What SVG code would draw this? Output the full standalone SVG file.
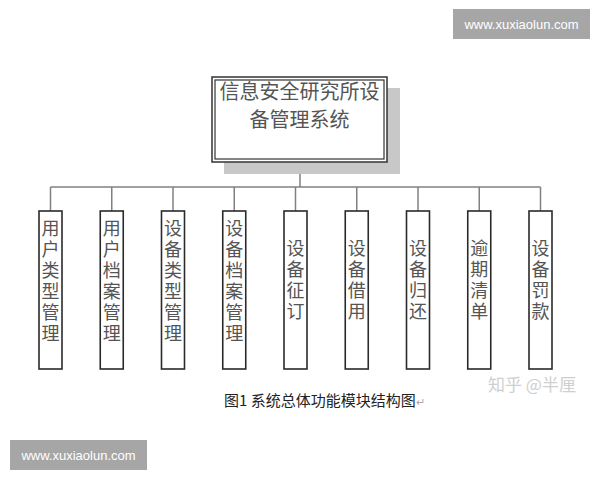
<svg xmlns="http://www.w3.org/2000/svg" width="600" height="480" viewBox="0 0 600 480">
<style>
.bg{fill:#ffffff}
.conn{stroke:#808080;stroke-width:1.5;fill:none}
.box{fill:#ffffff;stroke:#2a2a2a;stroke-width:1.6}
.lbl{font-family:"Noto Sans CJK SC","Noto Sans",sans-serif;font-size:18px;fill:#555555;writing-mode:vertical-rl;letter-spacing:3px}
.title{font-family:"Noto Sans CJK SC","Noto Sans",sans-serif;font-size:20px;fill:#555555;text-anchor:middle}
.wm{fill:#a6a6a6}
.wmt{font-family:"Liberation Sans",Arial,sans-serif;font-size:13px;fill:#ffffff;text-anchor:middle}
</style>
<rect class="bg" x="0" y="0" width="600" height="480"/>
<g id="connectors">
<line class="conn" x1="300" y1="162" x2="300" y2="187"/>
<line class="conn" x1="50.5" y1="187" x2="540.5" y2="187"/>
<line class="conn" x1="50.5" y1="187" x2="50.5" y2="211"/>
<line class="conn" x1="111.75" y1="187" x2="111.75" y2="211"/>
<line class="conn" x1="173" y1="187" x2="173" y2="211"/>
<line class="conn" x1="234.25" y1="187" x2="234.25" y2="211"/>
<line class="conn" x1="295.5" y1="187" x2="295.5" y2="211"/>
<line class="conn" x1="356.75" y1="187" x2="356.75" y2="211"/>
<line class="conn" x1="418" y1="187" x2="418" y2="211"/>
<line class="conn" x1="479.25" y1="187" x2="479.25" y2="211"/>
<line class="conn" x1="540.5" y1="187" x2="540.5" y2="211"/>
</g>
<g id="root">
<rect x="224" y="88" width="176" height="86" fill="#c8c8c8"/>
<rect x="212" y="77" width="175" height="85" fill="#ffffff" stroke="#333333" stroke-width="1.5"/>
<rect x="215" y="80" width="169" height="79" fill="none" stroke="#333333" stroke-width="1.2"/>
<text class="title" x="299.5" y="99">信息安全研究所设</text>
<text class="title" x="299.5" y="127">备管理系统</text>
</g>
<g id="n1"><rect class="box" x="39" y="211" width="23" height="158"/>
<text class="lbl" x="50.5" y="219">用户类型管理</text></g>
<g id="n2"><rect class="box" x="100.25" y="211" width="23" height="158"/>
<text class="lbl" x="111.75" y="219">用户档案管理</text></g>
<g id="n3"><rect class="box" x="161.5" y="211" width="23" height="158"/>
<text class="lbl" x="173" y="219">设备类型管理</text></g>
<g id="n4"><rect class="box" x="222.75" y="211" width="23" height="158"/>
<text class="lbl" x="234.25" y="219">设备档案管理</text></g>
<g id="n5"><rect class="box" x="284" y="211" width="23" height="158"/>
<text class="lbl" x="295.5" y="239">设备征订</text></g>
<g id="n6"><rect class="box" x="345.25" y="211" width="23" height="158"/>
<text class="lbl" x="356.75" y="239">设备借用</text></g>
<g id="n7"><rect class="box" x="406.5" y="211" width="23" height="158"/>
<text class="lbl" x="418" y="239">设备归还</text></g>
<g id="n8"><rect class="box" x="467.75" y="211" width="23" height="158"/>
<text class="lbl" x="479.25" y="239">逾期清单</text></g>
<g id="n9"><rect class="box" x="529" y="211" width="23" height="158"/>
<text class="lbl" x="540.5" y="239">设备罚款</text></g>
<g id="caption">
<text x="224" y="406" font-family="'Noto Sans CJK SC','Noto Sans',sans-serif" font-size="15" fill="#222222">图1 系统总体功能模块结构图<tspan fill="#aaaaaa" font-size="11">↵</tspan></text>
</g>
<g id="watermarks">
<text x="488" y="391" font-family="'Noto Sans CJK SC','Noto Sans',sans-serif" font-size="17" fill="#cfcfcf">知乎 @半厘</text>
<rect class="wm" x="453" y="9" width="137" height="30"/>
<text class="wmt" x="521.5" y="29">www.xuxiaolun.com</text>
<rect class="wm" x="10" y="440" width="137" height="30"/>
<text class="wmt" x="78.5" y="460">www.xuxiaolun.com</text>
</g>
</svg>
